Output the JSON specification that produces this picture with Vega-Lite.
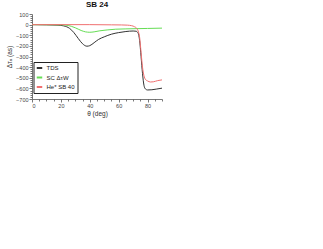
{
  "$schema": "https://vega.github.io/schema/vega-lite/v6.json",
  "autosize": "none",
  "width": 130,
  "height": 85,
  "padding": {"left": 32, "top": 14, "right": 161, "bottom": 150},
  "background": "white",
  "config": {
    "font": "Liberation Sans",
    "view": {"stroke": null},
    "axis": {"grid": false, "domainColor": "#555", "tickColor": "#555", "labelColor": "#444", "titleColor": "#333", "labelFontSize": 5.5, "titleFontSize": 6.5, "titleFontWeight": "normal", "domainWidth": 0.8, "tickWidth": 0.8}
  },
  "title": {"text": "SB 24", "fontSize": 8, "fontWeight": "bold", "offset": 3, "font": "Liberation Sans", "color": "#111"},
  "data": {"values": [
    {"s": "TDS", "t": 0, "v": 0}, {"s": "TDS", "t": 10, "v": -2}, {"s": "TDS", "t": 18, "v": -5}, {"s": "TDS", "t": 22, "v": -12}, {"s": "TDS", "t": 26, "v": -35}, {"s": "TDS", "t": 29, "v": -75}, {"s": "TDS", "t": 32, "v": -130}, {"s": "TDS", "t": 35, "v": -180}, {"s": "TDS", "t": 38, "v": -203}, {"s": "TDS", "t": 40, "v": -198}, {"s": "TDS", "t": 43, "v": -170}, {"s": "TDS", "t": 46, "v": -140}, {"s": "TDS", "t": 50, "v": -115}, {"s": "TDS", "t": 55, "v": -90}, {"s": "TDS", "t": 60, "v": -75}, {"s": "TDS", "t": 65, "v": -65}, {"s": "TDS", "t": 70, "v": -60}, {"s": "TDS", "t": 72, "v": -62}, {"s": "TDS", "t": 73.5, "v": -80}, {"s": "TDS", "t": 74.5, "v": -150}, {"s": "TDS", "t": 75.5, "v": -300}, {"s": "TDS", "t": 76.5, "v": -460}, {"s": "TDS", "t": 77.5, "v": -570}, {"s": "TDS", "t": 78.5, "v": -605}, {"s": "TDS", "t": 80, "v": -615}, {"s": "TDS", "t": 83, "v": -613}, {"s": "TDS", "t": 86, "v": -607}, {"s": "TDS", "t": 90, "v": -598},
    {"s": "SC ΔτW", "t": 0, "v": 0}, {"s": "SC ΔτW", "t": 20, "v": -2}, {"s": "SC ΔτW", "t": 25, "v": -8}, {"s": "SC ΔτW", "t": 30, "v": -30}, {"s": "SC ΔτW", "t": 34, "v": -55}, {"s": "SC ΔτW", "t": 37, "v": -68}, {"s": "SC ΔτW", "t": 40, "v": -72}, {"s": "SC ΔτW", "t": 43, "v": -68}, {"s": "SC ΔτW", "t": 47, "v": -58}, {"s": "SC ΔτW", "t": 52, "v": -50}, {"s": "SC ΔτW", "t": 58, "v": -43}, {"s": "SC ΔτW", "t": 65, "v": -40}, {"s": "SC ΔτW", "t": 72, "v": -38}, {"s": "SC ΔτW", "t": 80, "v": -36}, {"s": "SC ΔτW", "t": 90, "v": -33},
    {"s": "He* SB 40", "t": 0, "v": 0}, {"s": "He* SB 40", "t": 20, "v": 0}, {"s": "He* SB 40", "t": 40, "v": 0}, {"s": "He* SB 40", "t": 55, "v": -2}, {"s": "He* SB 40", "t": 62, "v": -3}, {"s": "He* SB 40", "t": 66, "v": -5}, {"s": "He* SB 40", "t": 69, "v": -10}, {"s": "He* SB 40", "t": 71, "v": -20}, {"s": "He* SB 40", "t": 72.5, "v": -35}, {"s": "He* SB 40", "t": 73.5, "v": -60}, {"s": "He* SB 40", "t": 74.5, "v": -120}, {"s": "He* SB 40", "t": 75.5, "v": -260}, {"s": "He* SB 40", "t": 76.5, "v": -400}, {"s": "He* SB 40", "t": 77.5, "v": -480}, {"s": "He* SB 40", "t": 78.5, "v": -515}, {"s": "He* SB 40", "t": 80, "v": -530}, {"s": "He* SB 40", "t": 82, "v": -540}, {"s": "He* SB 40", "t": 84, "v": -538}, {"s": "He* SB 40", "t": 87, "v": -527}, {"s": "He* SB 40", "t": 90, "v": -520}
  ]},
  "mark": {"type": "line", "strokeWidth": 1, "interpolate": "monotone"},
  "encoding": {
    "x": {"field": "t", "type": "quantitative", "scale": {"domain": [0, 90], "nice": false},
      "axis": {"title": "θ (deg)", "values": [0,5,10,15,20,25,30,35,40,45,50,55,60,65,70,75,80,85,90], "labelExpr": "datum.value % 20 === 0 ? datum.label : ''", "tickSize": {"condition": {"test": "datum.value % 20 === 0", "value": 3}, "value": 2}, "labelPadding": 1, "titlePadding": 2}},
    "y": {"field": "v", "type": "quantitative", "scale": {"domain": [-700, 100], "nice": false},
      "axis": {"title": "Δτₐ (as)", "values": [-700,-680,-660,-640,-620,-600,-580,-560,-540,-520,-500,-480,-460,-440,-420,-400,-380,-360,-340,-320,-300,-280,-260,-240,-220,-200,-180,-160,-140,-120,-100,-80,-60,-40,-20,0,20,40,60,80,100], "labelExpr": "datum.value % 100 === 0 ? datum.label : ''", "tickSize": {"condition": {"test": "datum.value % 100 === 0", "value": 3}, "value": 2}, "labelPadding": 1, "titlePadding": 3}},
    "color": {"field": "s", "type": "nominal",
      "scale": {"domain": ["TDS", "SC ΔτW", "He* SB 40"], "range": ["#333333", "#66dd55", "#f07070"]},
      "legend": {"title": null, "orient": "none", "legendX": 1.5, "legendY": 48, "strokeColor": "#222", "padding": 2, "symbolType": "stroke", "symbolSize": 30, "symbolStrokeWidth": 2, "labelFontSize": 6, "labelColor": "#222", "rowPadding": 1.5, "labelOffset": 3}}
  }
}
